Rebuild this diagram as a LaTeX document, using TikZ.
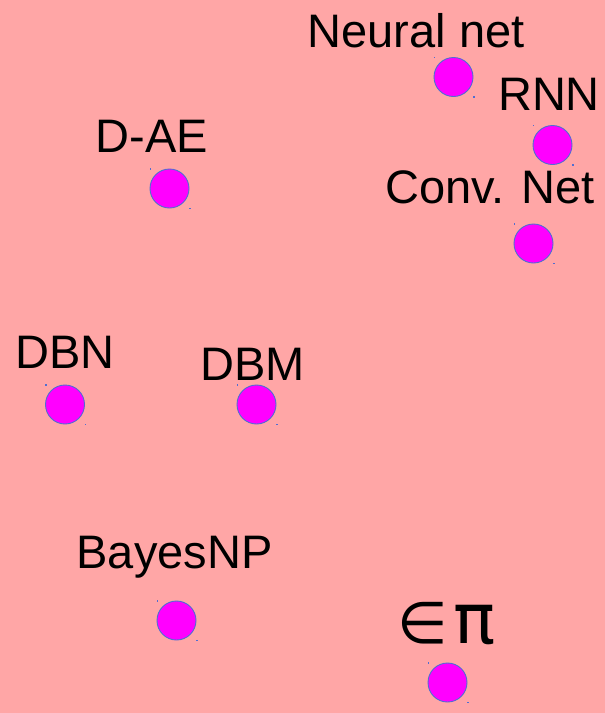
\documentclass[tikz,border=0pt]{standalone}
\usepackage{fontspec}
\setmainfont{Liberation Sans}
\newfontfamily\symfont{DejaVu Sans}
\definecolor{bgpink}{RGB}{255,166,166}
\definecolor{ptfill}{RGB}{255,0,255}
\definecolor{ptline}{RGB}{80,110,210}
\begin{document}
\begin{tikzpicture}[x=1pt,y=-1pt,
  pt/.style={circle,fill=ptfill,draw=ptline,line width=0.9pt,minimum size=39pt,inner sep=0pt},
  lbl/.style={anchor=base,inner sep=0pt,font=\fontsize{47}{50}\selectfont},
  speck/.style={fill=ptline,minimum size=1.6pt,inner sep=0pt,rectangle}]
\fill[bgpink] (0,0) rectangle (605,713);
\useasboundingbox (0,0) rectangle (605,713);
% labels
\node[lbl] (tNN) at (416,47) {Neural net};
\node[lbl] (tRNN) at (549,110) {RNN};
\node[lbl] (tConv) at (490,203) {Conv. Net};
\node[lbl] (tDAE) at (152,152) {D-AE};
\node[lbl] (tDBN) at (65,368) {DBN};
\node[lbl] (tDBM) at (252.5,380) {DBM};
\node[lbl] (tBayes) at (174.5,568) {BayesNP};
\node[anchor=base,inner sep=0pt,font=\symfont] (tEP) at (446.5,643)
  {\fontsize{58}{60}\selectfont ∈\kern5pt\fontsize{70}{72}\selectfont π};
% points
\foreach \n/\x/\y in {NN/453.5/77, RNN/552.5/145, Conv/533.5/243.5, DAE/169.5/188.5,
                      DBN/65/404.5, DBM/256.5/404.5, Bayes/176.5/620.5, EP/447.5/682.5}{
  \node[pt] (p\n) at (\x,\y) {};
  \node[speck] (s\n a) at ([shift={(-19,-19.5)}]p\n.center) {};
  \node[speck] (s\n b) at ([shift={(20.5,20)}]p\n.center) {};
}
\end{tikzpicture}
\end{document}
